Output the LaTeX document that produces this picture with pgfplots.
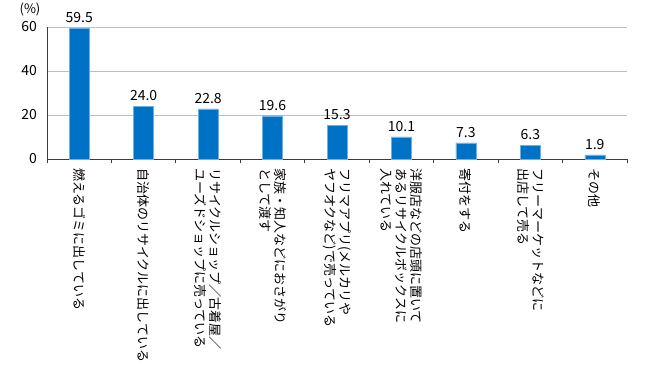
\documentclass[border=0pt]{standalone}
\usepackage{pgfplots}
\pgfplotsset{compat=1.18}
\usepackage{fontspec}
\setmainfont{Noto Sans CJK JP}
\definecolor{barblue}{RGB}{0,114,198}
\definecolor{baredge}{RGB}{110,175,228}
\definecolor{gridgray}{RGB}{190,190,190}
\definecolor{axisgray}{RGB}{60,60,60}
\begin{document}
\begin{tikzpicture}
\useasboundingbox (0,0) rectangle (650pt,370pt);
\begin{axis}[
  at={(47pt,211pt)}, anchor=south west,
  scale only axis, width=580pt, height=132pt,
  xmin=-0.5, xmax=8.5, ymin=0, ymax=60,
  ybar, bar width=20pt,
  axis x line*=bottom, axis y line*=left,
  axis line style={axisgray, line width=0.8pt},
  ytick={0,20,40,60},
  ymajorgrids, grid style={gridgray, line width=0.7pt},
  major tick length=0pt,
  minor xtick={-0.5,0.5,...,8.5}, minor tick length=4pt,
  minor tick style={axisgray, line width=0.8pt},
  xtick=data,
  xticklabels={
    {燃えるゴミに出している},
    {自治体のリサイクルに出している},
    {リサイクルショップ／古着屋／\\ユーズドショップに売っている},
    {家族・知人などにおさがり\\として渡す},
    {フリマアプリ(メルカリや\\ヤフオクなど)で売っている},
    {洋服店などの店頭に置いて\\あるリサイクルボックスに\\入れている},
    {寄付をする},
    {フリーマーケットなどに\\出店して売る},
    {その他}},
  xticklabel style={rotate=-90, anchor=west, align=left, inner sep=0pt,
    font=\fontsize{13}{15}\selectfont},
  xticklabel shift=9pt,
  yticklabel style={font=\fontsize{14}{16}\selectfont, inner sep=0pt},
  yticklabel shift=10pt,
  /pgf/number format/assume math mode=true,
  nodes near coords,
  nodes near coords style={font=\fontsize{14}{16}\selectfont, anchor=south, inner sep=0pt, yshift=5pt,
    /pgf/number format/.cd, fixed, fixed zerofill, precision=1},
  clip=false,
]
\addplot[fill=barblue, draw=baredge, line width=0.5pt] coordinates {
  (0,59.5) (1,24.0) (2,22.8) (3,19.6) (4,15.3) (5,10.1) (6,7.3) (7,6.3) (8,1.9)};
\node[font=\fontsize{13}{15}\selectfont] at ([xshift=-17pt,yshift=18pt]rel axis cs:0,1) {(\%)};
\end{axis}
\end{tikzpicture}
\end{document}
